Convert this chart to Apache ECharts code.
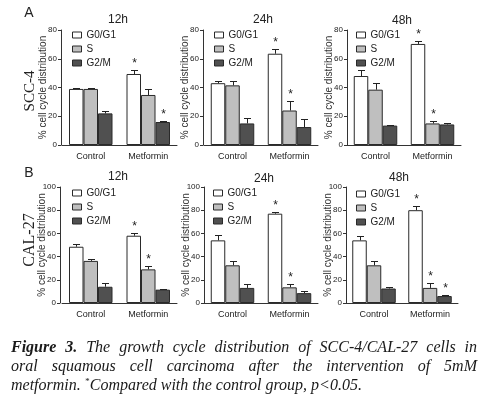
<!DOCTYPE html>
<html><head><meta charset="utf-8">
<script src="https://cdn.jsdelivr.net/npm/echarts@6/dist/echarts.min.js"></script>
<style>html,body{margin:0;padding:0;background:#fff}#c{width:488px;height:404px}</style>
</head><body><div id="c"></div>
<script>
// ---------------- DATA ----------------
const categories = ['Control', 'Metformin'];
const phases = ['G0/G1', 'S', 'G2/M'];
const panelTitles = ['12h', '24h', '48h', '12h', '24h', '48h'];
const rowLabels = ['A', 'B'];
const cellLines = ['SCC-4', 'CAL-27'];
const yAxisName = '% cell cycle distribution';
const yMaxTop = 80, yMaxBottom = 100, yInterval = 20;

// rows = phases (G0/G1, S, G2/M); columns = [Control, Metformin]
const scc4_12h_mean = [[39, 49.4], [39, 34.8], [22, 16]];
const scc4_12h_err  = [[0.5, 3], [0.5, 4.5], [1.5, 1]];
const scc4_12h_sig  = [[0, 1], [0, 0], [0, 1]];

const scc4_24h_mean = [[43, 63.5], [41.5, 24], [15, 12.5]];
const scc4_24h_err  = [[1.5, 3], [3, 6.5], [3.5, 5.5]];
const scc4_24h_sig  = [[0, 1], [0, 1], [0, 0]];

const scc4_48h_mean = [[48, 70.3], [38.5, 15], [13.5, 14.3]];
const scc4_48h_err  = [[4, 2], [4.5, 1.5], [0.5, 1]];
const scc4_48h_sig  = [[0, 1], [0, 1], [0, 0]];

const cal27_12h_mean = [[48.5, 58], [36.3, 29], [14, 11.5]];
const cal27_12h_err  = [[2, 2.5], [2, 3], [3, 1]];
const cal27_12h_sig  = [[0, 1], [0, 1], [0, 0]];

const cal27_24h_mean = [[54, 77], [32.5, 13.5], [13, 8.5]];
const cal27_24h_err  = [[5, 1.5], [4, 2.5], [3, 2]];
const cal27_24h_sig  = [[0, 1], [0, 1], [0, 0]];

const cal27_48h_mean = [[54, 80], [32.5, 13], [12.5, 6]];
const cal27_48h_err  = [[3.5, 4], [3.5, 4], [1, 0.5]];
const cal27_48h_sig  = [[0, 1], [0, 1], [0, 1]];

const captionLine1 = 'Figure 3. The growth cycle distribution of SCC-4/CAL-27 cells in';
const captionLine2 = 'oral squamous cell carcinoma after the intervention of 5mM';
const captionLine3a = 'metformin.';
const captionLine3b = 'Compared with the control group, p<0.05.';

// ---------------- LAYOUT / STYLE ----------------
const panels = [
  {mean: scc4_12h_mean, err: scc4_12h_err, sig: scc4_12h_sig, max: yMaxTop},
  {mean: scc4_24h_mean, err: scc4_24h_err, sig: scc4_24h_sig, max: yMaxTop},
  {mean: scc4_48h_mean, err: scc4_48h_err, sig: scc4_48h_sig, max: yMaxTop},
  {mean: cal27_12h_mean, err: cal27_12h_err, sig: cal27_12h_sig, max: yMaxBottom},
  {mean: cal27_24h_mean, err: cal27_24h_err, sig: cal27_24h_sig, max: yMaxBottom},
  {mean: cal27_48h_mean, err: cal27_48h_err, sig: cal27_48h_sig, max: yMaxBottom}
];
const geo = [
  {left: 62, top: 30, width: 115, height: 115, yOff: 1, lx: 72, ly: 29, tx: 118, ty: 20},
  {left: 204, top: 30, width: 114, height: 115, yOff: 1, lx: 214, ly: 29, tx: 263, ty: 20},
  {left: 347, top: 30, width: 114, height: 115, yOff: 0, lx: 356, ly: 29, tx: 402, ty: 21},
  {left: 62, top: 187, width: 115, height: 116, yOff: 2, lx: 72, ly: 187, tx: 118, ty: 177},
  {left: 204, top: 187, width: 114, height: 116, yOff: 0, lx: 213, ly: 187, tx: 264, ty: 179},
  {left: 346, top: 187, width: 112, height: 116, yOff: 0, lx: 356, ly: 188, tx: 399, ty: 178}
];
const FONT = '"Liberation Sans Narrow", "Liberation Sans", Arial, sans-serif';
const BAR_W = 14.5;
const phaseColors = ['#ffffff', '#bfbfbf', '#505050'];
const edge = '#2a2a2a';

const grid = [], xAxis = [], yAxis = [], series = [], legend = [];
panels.forEach((p, i) => {
  const g = geo[i];
  grid.push({left: g.left, top: g.top, width: g.width, height: g.height});
  xAxis.push({
    type: 'category', gridIndex: i, data: categories,
    axisLine: {lineStyle: {color: '#333', width: 1}},
    axisTick: {show: false},
    axisLabel: {fontSize: 9, color: '#222', margin: 7, fontFamily: FONT}
  });
  yAxis.push({
    type: 'value', gridIndex: i, min: 0, max: p.max, interval: yInterval, offset: g.yOff,
    axisLine: {show: true, lineStyle: {color: '#333', width: 1}},
    axisTick: {show: true, length: 3, lineStyle: {color: '#333'}},
    axisLabel: {fontSize: 8, color: '#222', margin: 4, fontFamily: FONT},
    splitLine: {show: false},
    name: yAxisName, nameLocation: 'middle', nameGap: 13, nameMoveOverlap: false,
    nameTextStyle: {fontSize: 10, color: '#333', fontFamily: FONT}
  });
  phases.forEach((ph, k) => {
    series.push({
      type: 'bar', name: ph, xAxisIndex: i, yAxisIndex: i, data: p.mean[k],
      barWidth: BAR_W, barGap: '0%', silent: true,
      itemStyle: {color: phaseColors[k], borderColor: edge, borderWidth: 1}
    });
  });
  const ebData = [];
  phases.forEach((ph, k) => {
    categories.forEach((c, ci) => {
      ebData.push([ci, p.mean[k][ci], p.err[k][ci], p.sig[k][ci], k]);
    });
  });
  series.push({
    type: 'custom', xAxisIndex: i, yAxisIndex: i, data: ebData, silent: true, z: 5,
    encode: {x: 0, y: 1},
    renderItem: (params, api) => {
      const ci = api.value(0), m = api.value(1), e = api.value(2), s = api.value(3), k = api.value(4);
      const b = api.coord([ci, m]);
      const t = api.coord([ci, m + e]);
      const x = Math.round(b[0] + (k - 1) * BAR_W) + 0.5;
      const ty = Math.round(t[1]) + 0.5;
      const ch = [
        {type: 'line', shape: {x1: x, y1: b[1], x2: x, y2: ty}, style: {stroke: '#222', lineWidth: 1}},
        {type: 'line', shape: {x1: x - 3.5, y1: ty, x2: x + 3.5, y2: ty}, style: {stroke: '#222', lineWidth: 1}}
      ];
      if (s) ch.push({type: 'text', x: x, y: ty - 1, style: {text: '*', fill: '#222', font: '12px "Liberation Sans", Arial', align: 'center', verticalAlign: 'bottom'}});
      return {type: 'group', children: ch};
    }
  });
  legend.push({
    left: g.lx, top: g.ly, orient: 'vertical', padding: 0, itemGap: 2,
    itemWidth: 9, itemHeight: 6, selectedMode: false,
    textStyle: {fontSize: 10, color: '#222', lineHeight: 12, fontFamily: FONT},
    data: phases.map((ph, k) => ({name: ph, icon: 'rect', itemStyle: {color: phaseColors[k], borderColor: edge, borderWidth: 1}}))
  });
});

// ---------------- GRAPHIC TEXT ----------------
const graphic = [];
geo.forEach((g, i) => {
  graphic.push({type: 'text', x: g.tx, y: g.ty, style: {text: panelTitles[i], font: '12px ' + FONT, fill: '#222', align: 'center', verticalAlign: 'middle'}});
});
graphic.push({type: 'text', x: 29, y: 13, style: {text: rowLabels[0], font: '14px "Liberation Sans", Arial', fill: '#222', align: 'center', verticalAlign: 'middle'}});
graphic.push({type: 'text', x: 29, y: 173, style: {text: rowLabels[1], font: '14px "Liberation Sans", Arial', fill: '#222', align: 'center', verticalAlign: 'middle'}});
graphic.push({type: 'text', x: 30, y: 91, rotation: Math.PI / 2, style: {text: cellLines[0], font: '15px "Liberation Serif", serif', fill: '#222', align: 'center', verticalAlign: 'middle'}});
graphic.push({type: 'text', x: 30, y: 240, rotation: Math.PI / 2, style: {text: cellLines[1], font: '16px "Liberation Serif", serif', fill: '#222', align: 'center', verticalAlign: 'middle'}});

// caption with justified lines
const CAP_SIZE = 16;
const capFont = (bold) => (bold ? 'italic bold ' : 'italic ') + CAP_SIZE + 'px "Liberation Serif", serif';
const mctx = document.createElement('canvas').getContext('2d');
const measure = (t, f) => { mctx.font = f; return mctx.measureText(t).width; };
const CAP_L = 11, CAP_R = 477;
function justify(words, y) {
  const ws = words.map(w => measure(w.t, capFont(w.b)));
  const total = ws.reduce((a, b) => a + b, 0);
  const gap = (CAP_R - CAP_L - total) / (words.length - 1);
  let x = CAP_L;
  words.forEach((w, i) => {
    graphic.push({type: 'text', x: x, y: y, style: {text: w.t, font: capFont(w.b), fill: '#1a1a1a', align: 'left', verticalAlign: 'middle'}});
    x += ws[i] + gap;
  });
}
const l1 = captionLine1.split(' ').map((t, i) => ({t, b: i < 2}));
const l2 = captionLine2.split(' ').map(t => ({t, b: false}));
justify(l1, 348);
justify(l2, 367);
let x3 = CAP_L;
graphic.push({type: 'text', x: x3, y: 386, style: {text: captionLine3a, font: capFont(false), fill: '#1a1a1a', align: 'left', verticalAlign: 'middle'}});
x3 += measure(captionLine3a + ' ', capFont(false));
graphic.push({type: 'text', x: x3, y: 382, style: {text: '*', font: 'italic 9px "Liberation Serif", serif', fill: '#1a1a1a', align: 'left', verticalAlign: 'middle'}});
x3 += measure('*', 'italic 9px "Liberation Serif", serif') + 0.5;
graphic.push({type: 'text', x: x3, y: 386, style: {text: captionLine3b, font: capFont(false), fill: '#1a1a1a', align: 'left', verticalAlign: 'middle'}});

const chart = echarts.init(document.getElementById('c'), null, {renderer: 'canvas'});
chart.setOption({
  animation: false,
  backgroundColor: '#ffffff',
  textStyle: {fontFamily: FONT},
  grid, xAxis, yAxis, series, legend, graphic
});
</script></body></html>
